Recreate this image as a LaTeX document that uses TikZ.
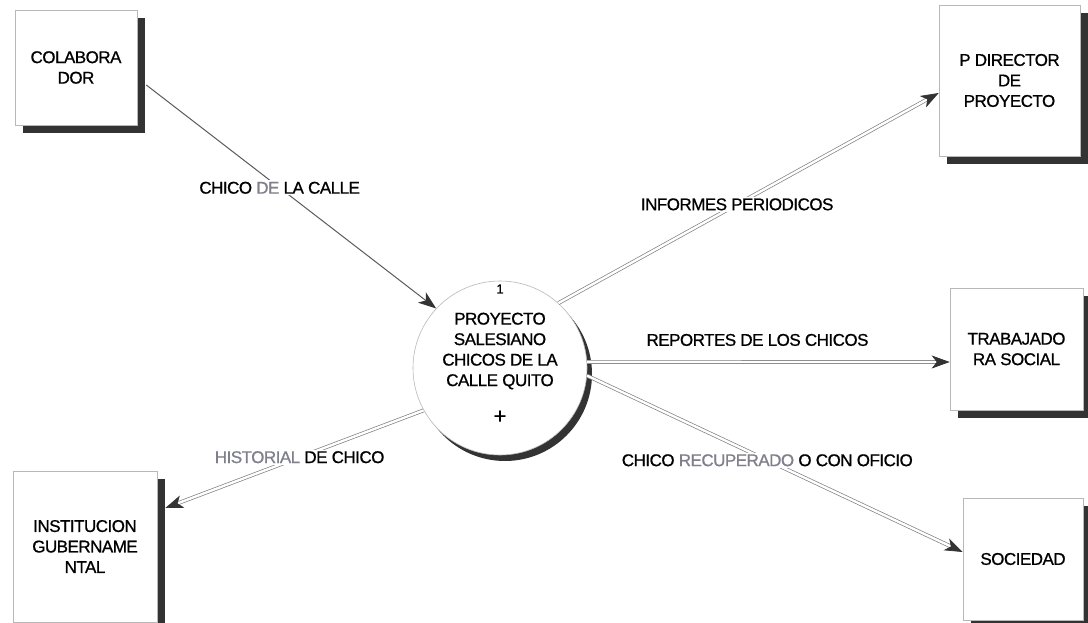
\documentclass[tikz,border=0pt]{standalone}
\usepackage{fontspec}
\setmainfont{Liberation Sans}[LetterSpace=-3,FakeBold=0.8]
\usetikzlibrary{arrows.meta,shadows}
\definecolor{shd}{HTML}{333333}
\definecolor{edgec}{HTML}{B8B8B8}
\definecolor{lnc}{HTML}{5A5A5A}
\definecolor{dlnc}{HTML}{808080}
\definecolor{fadetxt}{HTML}{80808C}
\begin{document}
\begin{tikzpicture}[x=1pt,y=1pt,
  font=\fontsize{17}{20.5}\selectfont,
  ent/.style={draw=edgec, line width=0.6pt, fill=white, align=center, inner sep=0pt,
    drop shadow={shadow xshift=8pt, shadow yshift=-8pt, fill=shd, opacity=1}},
  proc/.style={circle, draw=edgec, line width=0.6pt, fill=white, inner sep=0pt, minimum size=174pt,
    drop shadow={shadow xshift=5pt, shadow yshift=-6pt, fill=shd, opacity=1}},
  tipstyle/.style={-{Stealth[length=18pt,width=13pt,inset=5pt,color=shd]}},
  flow/.style={draw=lnc, line width=1pt, tipstyle},
  dflow/.style={draw=dlnc, line width=0.7pt, double=white, double distance=2.4pt, tipstyle},
  lbl/.style={fill=white, inner sep=1.5pt},
  ptext/.style={align=center, inner sep=0pt}]
\useasboundingbox (0,-623) rectangle (1088,0);

% external entities
\node[ent, minimum width=122pt, minimum height=115pt] (col) at (76,-67.5) {COLABORA\\DOR};
\node[ent, minimum width=141pt, minimum height=151pt] (dir) at (1009.5,-80.5) {P DIRECTOR\\DE\\PROYECTO};
\node[ent, minimum width=133pt, minimum height=122pt] (tra) at (1016.5,-349) {TRABAJADO\\RA SOCIAL};
\node[ent, minimum width=120pt, minimum height=122pt] (soc) at (1023,-559) {SOCIEDAD};
\node[ent, minimum width=144pt, minimum height=151pt] (ins) at (85,-546.5) {INSTITUCION\\GUBERNAME\\NTAL};

% process
\node[proc] (p) at (500,-368) {};
\node[ptext, font=\fontsize{13}{15}\selectfont] (pnum) at (500,-289) {1};
\node[ptext] (pname) at (500,-351) {PROYECTO\\SALESIANO\\CHICOS DE LA\\CALLE QUITO};
\node[ptext, font=\fontsize{22}{24}\selectfont] (pplus) at (500,-417) {+};

% flows
\draw[flow] ([xshift=9pt,yshift=-17.5pt]col.east) -- (p.137)
  node[lbl, pos=0.46] (l1) {CHICO {\color{fadetxt}DE} LA CALLE};
\draw[dflow] (p.48) -- ([yshift=-12.5pt]dir.west)
  node[lbl, pos=0.47] (l2) {INFORMES PERIODICOS};
\draw[dflow] (p.4) -- ([yshift=-13pt]tra.west)
  node[pos=0.47, yshift=22pt] (l3) {REPORTES DE LOS CHICOS};
\draw[dflow] (p.-5) -- ([yshift=7pt]soc.west)
  node[lbl, pos=0.48] (l4) {CHICO {\color{fadetxt}RECUPERADO} O CON OFICIO};
\draw[dflow] (p.209) -- ([xshift=8pt,yshift=38.5pt]ins.east)
  node[lbl, pos=0.48] (l5) {{\color{fadetxt}HISTORIAL} DE CHICO};
\end{tikzpicture}
\end{document}
